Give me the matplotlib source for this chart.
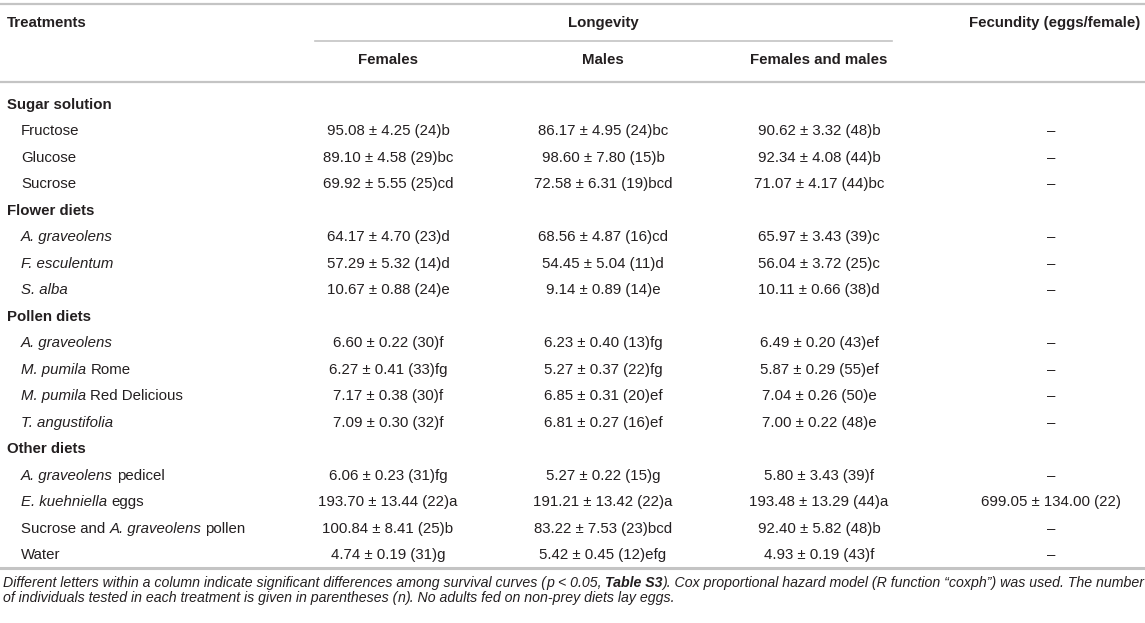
import matplotlib
matplotlib.use("Agg")
import matplotlib.pyplot as plt

plt.rcParams["font.family"] = ["Liberation Sans", "DejaVu Sans"]

# table content; *...* marks italic, **...** bold italic
groups = ["Sugar solution", "Flower diets", "Pollen diets", "Other diets"]
treatments = [
    ["Fructose", "Glucose", "Sucrose"],
    ["*A. graveolens*", "*F. esculentum*", "*S. alba*"],
    ["*A. graveolens*", "*M. pumila* Rome", "*M. pumila* Red Delicious", "*T. angustifolia*"],
    ["*A. graveolens* pedicel", "*E. kuehniella* eggs",
     "Sucrose and *A. graveolens* pollen", "Water"],
]
females = [
    ["95.08 ± 4.25 (24)b", "89.10 ± 4.58 (29)bc", "69.92 ± 5.55 (25)cd"],
    ["64.17 ± 4.70 (23)d", "57.29 ± 5.32 (14)d", "10.67 ± 0.88 (24)e"],
    ["6.60 ± 0.22 (30)f", "6.27 ± 0.41 (33)fg", "7.17 ± 0.38 (30)f", "7.09 ± 0.30 (32)f"],
    ["6.06 ± 0.23 (31)fg", "193.70 ± 13.44 (22)a", "100.84 ± 8.41 (25)b", "4.74 ± 0.19 (31)g"],
]
males = [
    ["86.17 ± 4.95 (24)bc", "98.60 ± 7.80 (15)b", "72.58 ± 6.31 (19)bcd"],
    ["68.56 ± 4.87 (16)cd", "54.45 ± 5.04 (11)d", "9.14 ± 0.89 (14)e"],
    ["6.23 ± 0.40 (13)fg", "5.27 ± 0.37 (22)fg", "6.85 ± 0.31 (20)ef", "6.81 ± 0.27 (16)ef"],
    ["5.27 ± 0.22 (15)g", "191.21 ± 13.42 (22)a", "83.22 ± 7.53 (23)bcd", "5.42 ± 0.45 (12)efg"],
]
both = [
    ["90.62 ± 3.32 (48)b", "92.34 ± 4.08 (44)b", "71.07 ± 4.17 (44)bc"],
    ["65.97 ± 3.43 (39)c", "56.04 ± 3.72 (25)c", "10.11 ± 0.66 (38)d"],
    ["6.49 ± 0.20 (43)ef", "5.87 ± 0.29 (55)ef", "7.04 ± 0.26 (50)e", "7.00 ± 0.22 (48)e"],
    ["5.80 ± 3.43 (39)f", "193.48 ± 13.29 (44)a", "92.40 ± 5.82 (48)b", "4.93 ± 0.19 (43)f"],
]
fecundity = [
    ["–", "–", "–"],
    ["–", "–", "–"],
    ["–", "–", "–", "–"],
    ["–", "699.05 ± 134.00 (22)", "–", "–"],
]
footnote = [
    "Different letters within a column indicate significant differences among survival curves (*p* < 0.05, "
    "**Table S3**). Cox proportional hazard model (R function “coxph”) was used. The number",
    "of individuals tested in each treatment is given in parentheses (*n*). No adults fed on non-prey diets lay eggs.",
]

W, H = 1145, 623
fig = plt.figure(figsize=(W / 100, H / 100), dpi=100)
ax = fig.add_axes([0, 0, 1, 1])
ax.set_xlim(0, W)
ax.set_ylim(H, 0)
ax.axis("off")
renderer = fig.canvas.get_renderer()

ink = "#231f20"
rule = "#c4c4c4"
fs = 10.8
col_x = [388, 603, 819, 1051]


def parse(s):
    # split a string into (text, style) pieces
    out = []
    i = 0
    while i < len(s):
        if s.startswith("**", i):
            j = s.index("**", i + 2)
            out.append((s[i + 2:j], "bi"))
            i = j + 2
        elif s[i] == "*":
            j = s.index("*", i + 1)
            out.append((s[i + 1:j], "i"))
            i = j + 1
        else:
            j = s.find("*", i)
            j = len(s) if j < 0 else j
            out.append((s[i:j], "n"))
            i = j
    return out


def style_kw(st):
    if st == "i":
        return dict(style="italic")
    if st == "bi":
        return dict(style="italic", weight="bold")
    return {}


def width(txt, size, **kw):
    t = ax.text(0, 0, txt, fontsize=size, **kw)
    w = t.get_window_extent(renderer).width
    t.remove()
    return w


def rich(x, y, s, size=fs, **extra):
    # draw pieces one after another; spaces measured separately
    for txt, st in parse(s):
        kw = style_kw(st)
        kw.update(extra)
        sp = width("a a", size, **kw) - width("aa", size, **kw)
        lead = len(txt) - len(txt.lstrip(" "))
        trail = len(txt) - len(txt.rstrip(" "))
        core = txt.strip(" ")
        x += lead * sp
        if core:
            t = ax.text(x, y, core, fontsize=size, color=ink, va="center", **kw)
            x += t.get_window_extent(renderer).width
        x += trail * sp


# rules
ax.plot([0, W], [4, 4], color=rule, lw=1.6)
ax.plot([315, 892], [41, 41], color=rule, lw=1.2)
ax.plot([0, W], [82, 82], color=rule, lw=1.6)
ax.plot([0, W], [568, 568], color=rule, lw=2.2)

# headers
ax.text(7, 23, "Treatments", fontsize=fs, weight="bold", color=ink, va="center")
ax.text(603, 23, "Longevity", fontsize=fs, weight="bold", color=ink, va="center", ha="center")
ax.text(1140, 23, "Fecundity (eggs/female)", fontsize=fs, weight="bold", color=ink,
        va="center", ha="right")
for cx, lab in zip(col_x[:3], ["Females", "Males", "Females and males"]):
    ax.text(cx, 60, lab, fontsize=fs, weight="bold", color=ink, va="center", ha="center")

# body
row_h = 26.47
y = 105
for g, group in enumerate(groups):
    ax.text(7, y, group, fontsize=fs, weight="bold", color=ink, va="center")
    y += row_h
    for k, name in enumerate(treatments[g]):
        rich(21, y, name)
        for cx, col in zip(col_x, [females, males, both, fecundity]):
            ax.text(cx, y, col[g][k], fontsize=fs, color=ink, va="center", ha="center")
        y += row_h

# footnote
rich(3, 583, footnote[0], size=10.15, style="italic")
rich(3, 598, footnote[1], size=10.15, style="italic")

fig.savefig("out.png", dpi=100)
